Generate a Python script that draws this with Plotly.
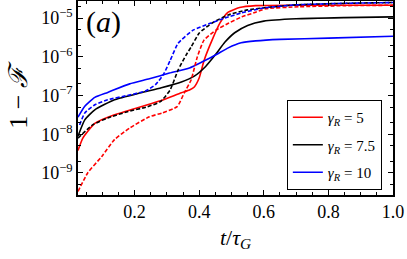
import plotly.graph_objects as go

# ---- data (t / tau_G, log10(1 - F)) ----
t_red_solid = [0.025, 0.04, 0.077, 0.138, 0.22, 0.283, 0.345, 0.37, 0.385, 0.40, 0.415, 0.44, 0.465, 0.49, 0.525, 0.575, 0.7, 0.85, 1.0]
y_red_solid = [-8.42, -8.10, -7.72, -7.50, -7.29, -7.13, -6.93, -6.86, -6.78, -6.55, -6.10, -5.57, -5.12, -4.85, -4.73, -4.68, -4.67, -4.67, -4.67]

t_red_dash = [0.025, 0.055, 0.098, 0.138, 0.185, 0.246, 0.286, 0.332, 0.354, 0.375, 0.394, 0.415, 0.452, 0.492, 0.532, 0.575, 0.606, 0.708, 0.85, 1.0]
y_red_dash = [-9.48, -9.00, -8.58, -8.14, -7.84, -7.55, -7.45, -7.29, -6.93, -6.60, -6.01, -5.57, -5.31, -5.13, -4.97, -4.85, -4.76, -4.71, -4.68, -4.67]

t_black_solid = [0.025, 0.046, 0.077, 0.138, 0.22, 0.283, 0.345, 0.385, 0.42, 0.45, 0.48, 0.51, 0.55, 0.6, 0.7, 0.85, 1.0]
y_black_solid = [-8.05, -7.63, -7.37, -7.11, -6.93, -6.80, -6.65, -6.50, -6.25, -5.95, -5.62, -5.38, -5.19, -5.08, -5.02, -4.99, -4.97]

t_black_dash = [0.025, 0.07, 0.117, 0.178, 0.24, 0.28, 0.31, 0.335, 0.36, 0.375, 0.40, 0.44, 0.49, 0.55, 0.615, 0.7, 0.85, 1.0]
y_black_dash = [-8.10, -7.76, -7.58, -7.42, -7.29, -7.16, -6.86, -6.34, -5.95, -5.75, -5.39, -5.13, -4.92, -4.79, -4.72, -4.66, -4.62, -4.60]

t_blue_solid = [0.025, 0.046, 0.077, 0.117, 0.185, 0.246, 0.308, 0.37, 0.41, 0.452, 0.49, 0.53, 0.575, 0.65, 0.8, 1.0]
y_blue_solid = [-7.56, -7.28, -7.05, -6.92, -6.70, -6.57, -6.42, -6.29, -6.13, -5.95, -5.77, -5.64, -5.59, -5.55, -5.52, -5.47]

t_blue_dash = [0.03, 0.046, 0.077, 0.117, 0.178, 0.235, 0.265, 0.29, 0.31, 0.335, 0.38, 0.43, 0.48, 0.53, 0.6, 0.7, 0.85, 1.0]
y_blue_dash = [-7.76, -7.45, -7.24, -7.11, -7.00, -6.88, -6.72, -6.45, -6.10, -5.65, -5.32, -5.15, -5.00, -4.87, -4.74, -4.66, -4.62, -4.60]

legend_labels = ["<i>γ<sub>R</sub></i> = 5", "<i>γ<sub>R</sub></i> = 7.5", "<i>γ<sub>R</sub></i> = 10"]
y_tick_vals = [1e-9, 1e-8, 1e-7, 1e-6, 1e-5]
y_tick_text = ["10<sup>−9</sup>", "10<sup>−8</sup>", "10<sup>−7</sup>", "10<sup>−6</sup>", "10<sup>−5</sup>"]
x_tick_vals = [0.2, 0.4, 0.6, 0.8, 1.0]
x_tick_text = ["0.2", "0.4", "0.6", "0.8", "1.0"]

RED, BLACK, BLUE = "#ff0000", "#000000", "#0000ff"
SERIF = "Liberation Serif"

fig = go.Figure()

def add(t, y, color, dash, name, show, group):
    fig.add_trace(go.Scatter(
        x=t, y=[10 ** v for v in y], mode="lines",
        line=dict(color=color, width=1.6, dash=dash, shape="spline", smoothing=0.5),
        name=name, showlegend=show, legendgroup=group))

add(t_red_solid, y_red_solid, RED, "solid", legend_labels[0], True, "g1")
add(t_black_solid, y_black_solid, BLACK, "solid", legend_labels[1], True, "g2")
add(t_blue_solid, y_blue_solid, BLUE, "solid", legend_labels[2], True, "g3")
add(t_red_dash, y_red_dash, RED, "4px,2px", "", False, "g1")
add(t_black_dash, y_black_dash, BLACK, "4px,2px", "", False, "g2")
add(t_blue_dash, y_blue_dash, BLUE, "4px,2px", "", False, "g3")

fig.update_layout(
    template="none",
    width=407, height=259,
    margin=dict(l=78, r=14, t=1, b=64, autoexpand=False),
    paper_bgcolor="white", plot_bgcolor="white",
    font=dict(family=SERIF, color="black", size=18),
    showlegend=True,
    legend=dict(x=0.663, y=0.49, xanchor="left", yanchor="top",
                bgcolor="white", bordercolor="black", borderwidth=1,
                font=dict(size=15, family=SERIF), itemwidth=30, tracegroupgap=5),
    xaxis=dict(range=[0.025, 1.0], tickvals=x_tick_vals, ticktext=x_tick_text, automargin=False,
               showline=True, linecolor="black", linewidth=1.5, mirror="allticks",
               ticks="inside", ticklen=5, tickcolor="black", showgrid=False, zeroline=False,
               minor=dict(ticks="inside", ticklen=3, tickcolor="black", dtick=0.05, showgrid=False),
               title=dict(text="<i>t</i>/<i>τ<sub>G</sub></i>", font=dict(size=22, family=SERIF), standoff=8)),
    yaxis=dict(type="log", range=[-9.57, -4.56], tickvals=y_tick_vals, ticktext=y_tick_text, automargin=False,
               showline=True, linecolor="black", linewidth=1.5, mirror="allticks",
               ticks="inside", ticklen=5, tickcolor="black", showgrid=False, zeroline=False,
               minor=dict(ticks="inside", ticklen=3, tickcolor="black", showgrid=False),
               title=dict(text="1 − <i>ℱ</i>", font=dict(size=26, family=SERIF), standoff=6)),
)

fig.add_annotation(x=0.02, y=0.99, xref="paper", yref="paper", xanchor="left", yanchor="top",
                   text="(<i>a</i>)", showarrow=False, font=dict(size=30, family=SERIF))

fig.write_html("out.html", config={"displayModeBar": False},
               post_script="document.body.style.margin='0px';")
